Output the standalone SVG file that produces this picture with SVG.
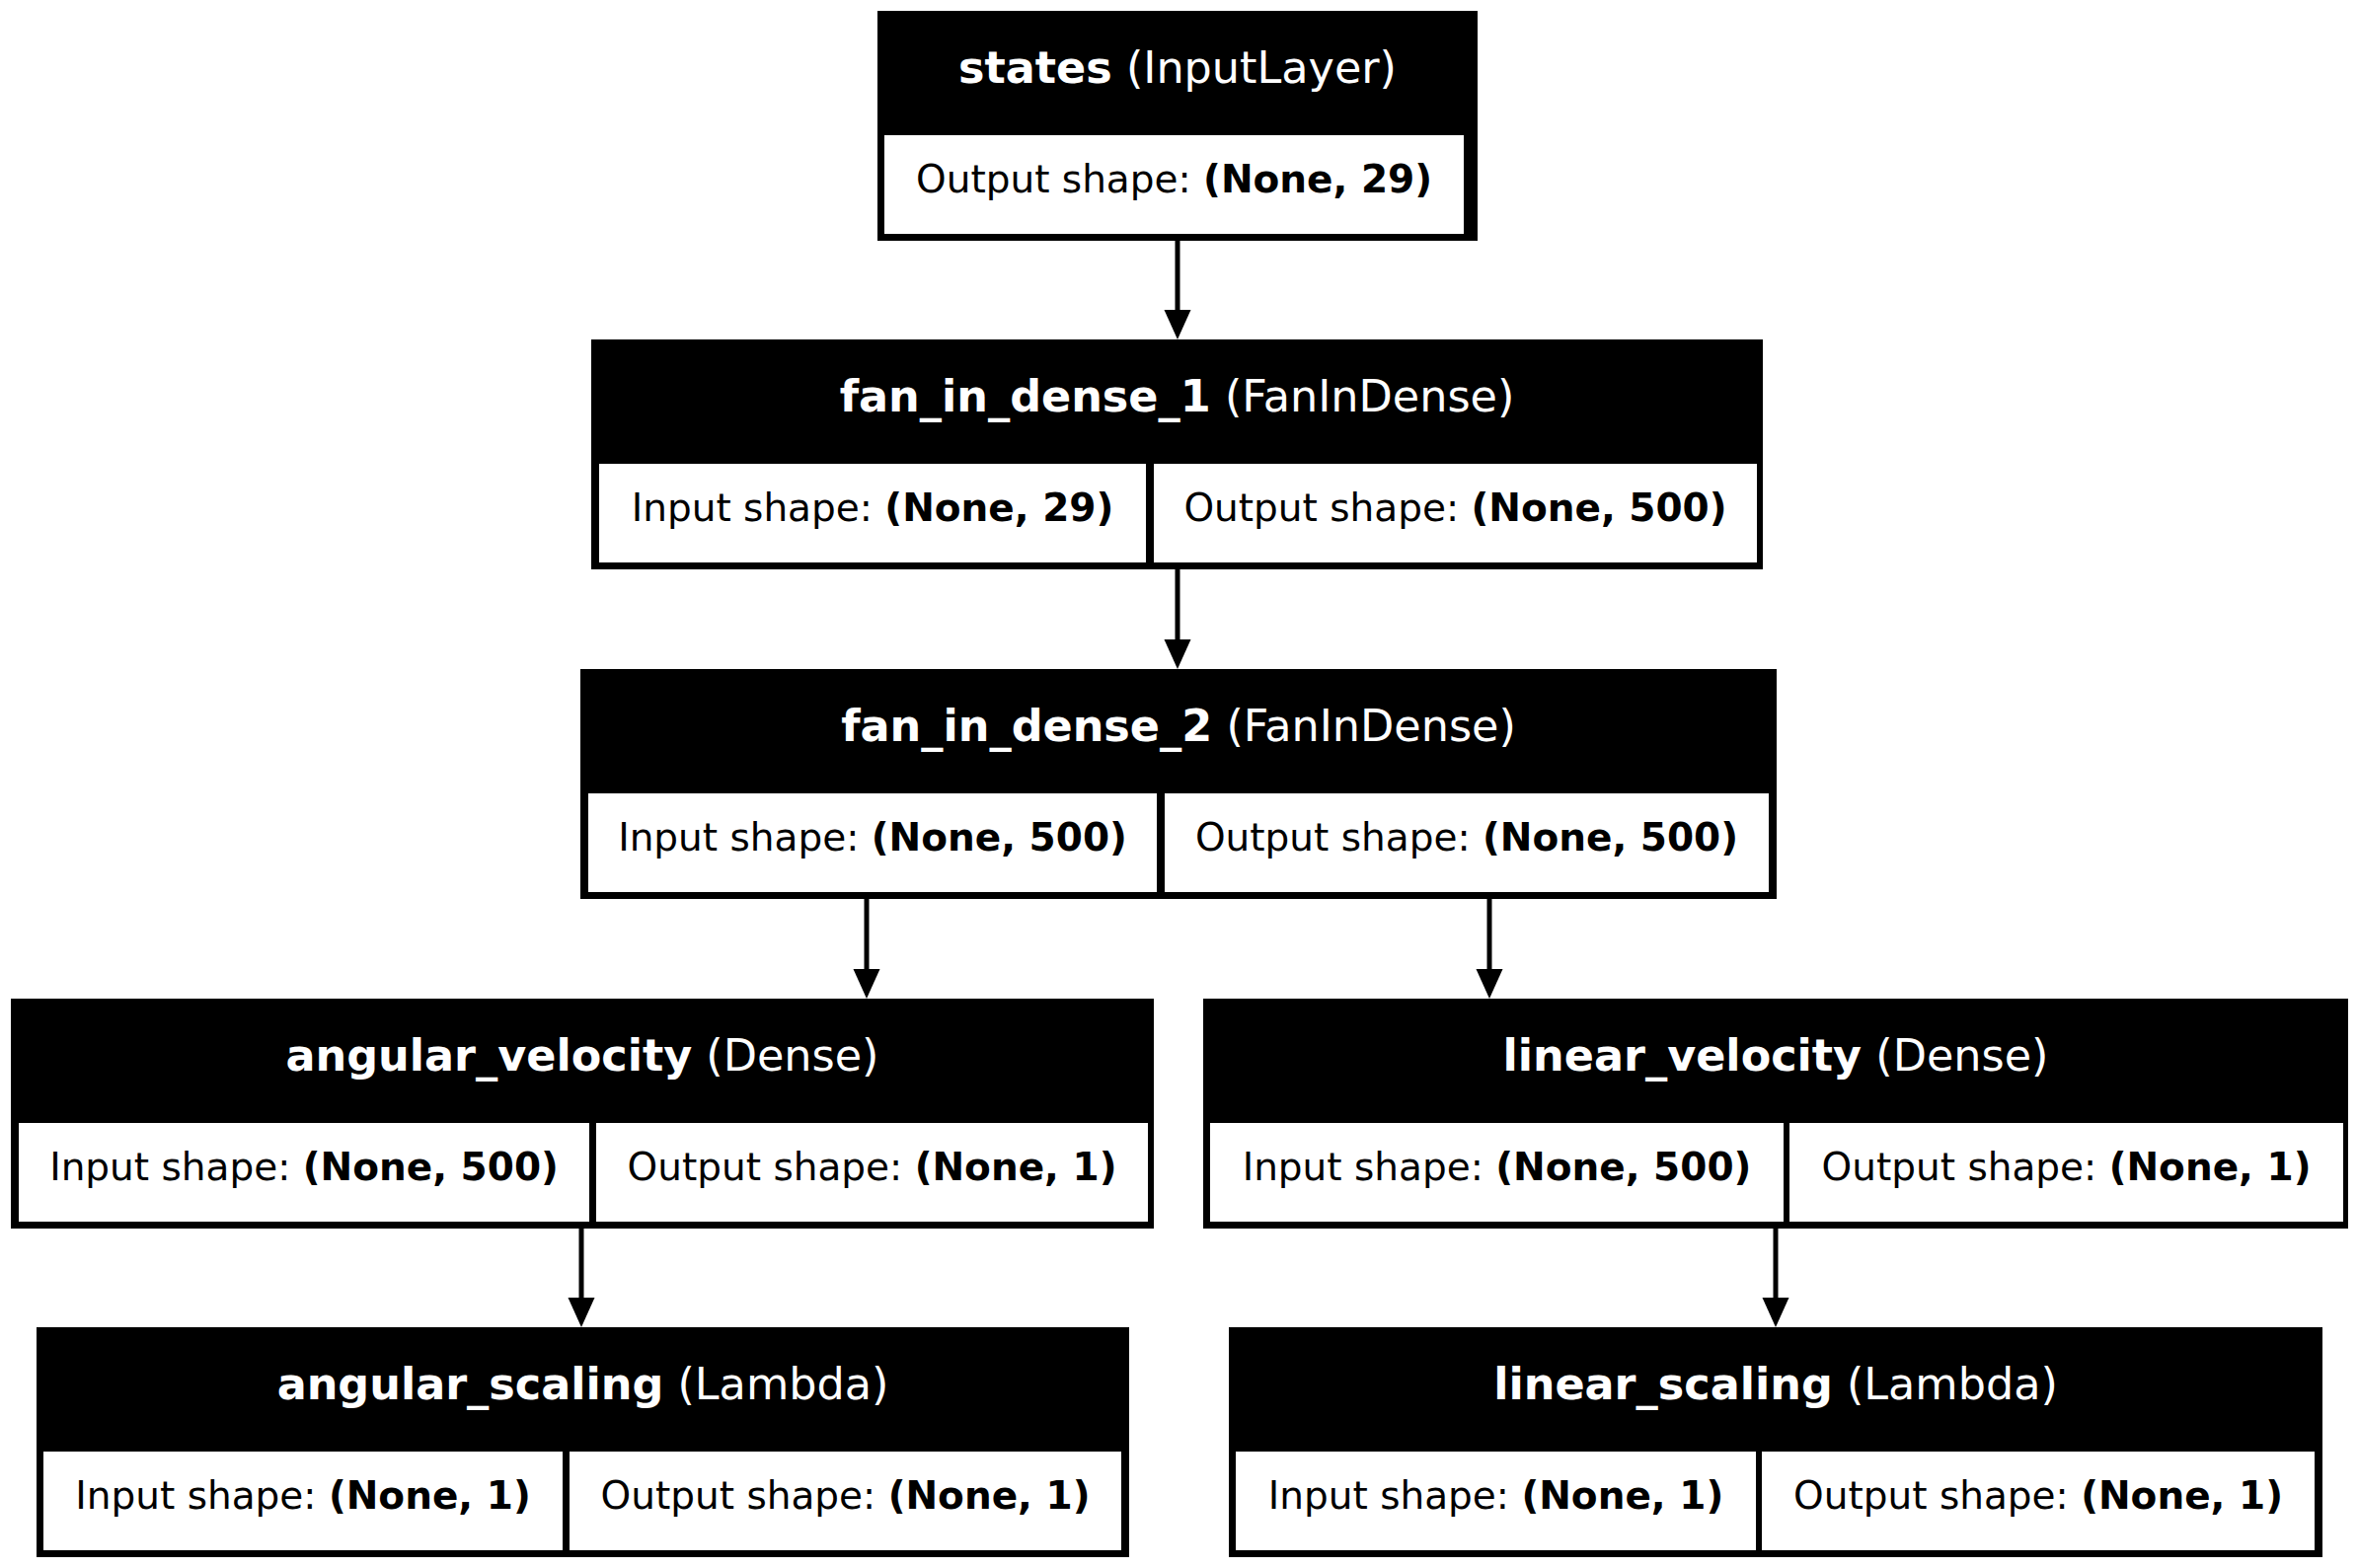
<svg xmlns="http://www.w3.org/2000/svg" width="2389" height="1589" viewBox="0 0 2389 1589">
<defs>
<style>
.box{fill:#000}
.cell{fill:#fff}
.hd{font-family:"DejaVu Sans",sans-serif;font-size:44.5px;fill:#fff;text-anchor:middle}
.bd{font-family:"DejaVu Sans",sans-serif;font-size:39px;fill:#000;text-anchor:middle}
.b{font-weight:bold}
.edge{stroke:#000;stroke-width:5;fill:none}
.head{fill:#000}
</style>
</defs>
<rect width="2389" height="1589" fill="#fff"/>
<g id="connectors">
<line class="edge" x1="1193" y1="244" x2="1193" y2="316"/>
<polygon class="head" points="1179.5,314 1206.5,314 1193,344"/>
<line class="edge" x1="1193" y1="577" x2="1193" y2="650"/>
<polygon class="head" points="1179.5,648 1206.5,648 1193,678"/>
<line class="edge" x1="878" y1="911" x2="878" y2="984"/>
<polygon class="head" points="864.5,982 891.5,982 878,1012"/>
<line class="edge" x1="1509" y1="911" x2="1509" y2="984"/>
<polygon class="head" points="1495.5,982 1522.5,982 1509,1012"/>
<line class="edge" x1="589" y1="1245" x2="589" y2="1317"/>
<polygon class="head" points="575.5,1315 602.5,1315 589,1345"/>
<line class="edge" x1="1799" y1="1245" x2="1799" y2="1317"/>
<polygon class="head" points="1785.5,1315 1812.5,1315 1799,1345"/>
</g>
<g id="states">
<rect class="box" x="889" y="11" width="608" height="233"/>
<rect class="cell" x="896" y="137" width="587" height="100"/>
<text class="hd" x="1193" y="84"><tspan class="b">states</tspan> (InputLayer)</text>
<text class="bd" x="1189.5" y="195">Output shape: <tspan class="b">(None, 29)</tspan></text>
</g>
<g id="fan_in_dense_1">
<rect class="box" x="599" y="344" width="1187" height="233"/>
<rect class="cell" x="607" y="470" width="554" height="100"/>
<rect class="cell" x="1169" y="470" width="611" height="100"/>
<text class="hd" x="1192.5" y="417"><tspan class="b">fan_in_dense_1</tspan> (FanInDense)</text>
<text class="bd" x="884" y="528">Input shape: <tspan class="b">(None, 29)</tspan></text>
<text class="bd" x="1474.5" y="528">Output shape: <tspan class="b">(None, 500)</tspan></text>
</g>
<g id="fan_in_dense_2">
<rect class="box" x="588" y="678" width="1212" height="233"/>
<rect class="cell" x="596" y="804" width="576" height="100"/>
<rect class="cell" x="1180" y="804" width="612" height="100"/>
<text class="hd" x="1194" y="751"><tspan class="b">fan_in_dense_2</tspan> (FanInDense)</text>
<text class="bd" x="884" y="862">Input shape: <tspan class="b">(None, 500)</tspan></text>
<text class="bd" x="1486" y="862">Output shape: <tspan class="b">(None, 500)</tspan></text>
</g>
<g id="angular_velocity">
<rect class="box" x="11" y="1012" width="1158" height="233"/>
<rect class="cell" x="19" y="1138" width="578" height="100"/>
<rect class="cell" x="604" y="1138" width="559" height="100"/>
<text class="hd" x="590" y="1085"><tspan class="b">angular_velocity</tspan> (Dense)</text>
<text class="bd" x="308" y="1196">Input shape: <tspan class="b">(None, 500)</tspan></text>
<text class="bd" x="883.5" y="1196">Output shape: <tspan class="b">(None, 1)</tspan></text>
</g>
<g id="linear_velocity">
<rect class="box" x="1219" y="1012" width="1160" height="233"/>
<rect class="cell" x="1226" y="1138" width="581" height="100"/>
<rect class="cell" x="1813" y="1138" width="561" height="100"/>
<text class="hd" x="1799" y="1085"><tspan class="b">linear_velocity</tspan> (Dense)</text>
<text class="bd" x="1516.5" y="1196">Input shape: <tspan class="b">(None, 500)</tspan></text>
<text class="bd" x="2093.5" y="1196">Output shape: <tspan class="b">(None, 1)</tspan></text>
</g>
<g id="angular_scaling">
<rect class="box" x="37" y="1345" width="1107" height="233"/>
<rect class="cell" x="44" y="1471" width="526" height="100"/>
<rect class="cell" x="577" y="1471" width="559" height="100"/>
<text class="hd" x="590.5" y="1418"><tspan class="b">angular_scaling</tspan> (Lambda)</text>
<text class="bd" x="307" y="1529">Input shape: <tspan class="b">(None, 1)</tspan></text>
<text class="bd" x="856.5" y="1529">Output shape: <tspan class="b">(None, 1)</tspan></text>
</g>
<g id="linear_scaling">
<rect class="box" x="1245" y="1345" width="1108" height="233"/>
<rect class="cell" x="1252" y="1471" width="527" height="100"/>
<rect class="cell" x="1785" y="1471" width="560" height="100"/>
<text class="hd" x="1799" y="1418"><tspan class="b">linear_scaling</tspan> (Lambda)</text>
<text class="bd" x="1515.5" y="1529">Input shape: <tspan class="b">(None, 1)</tspan></text>
<text class="bd" x="2065" y="1529">Output shape: <tspan class="b">(None, 1)</tspan></text>
</g>
</svg>
